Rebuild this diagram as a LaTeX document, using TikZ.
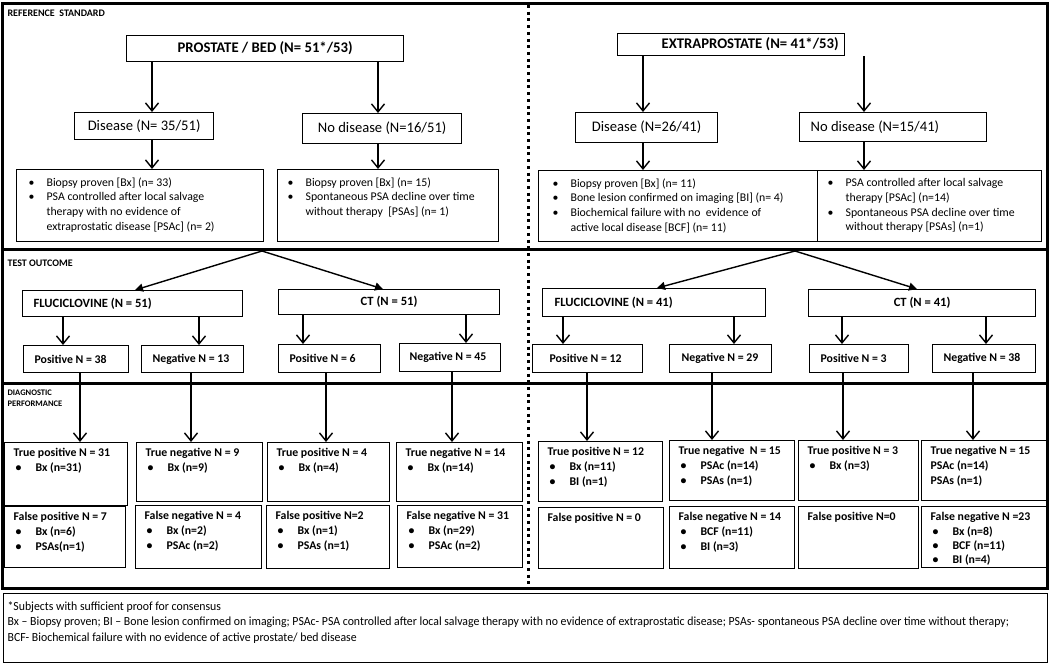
\documentclass[tikz,border=0pt]{standalone}
\usepackage{fontspec}
\setmainfont{Carlito}
\newfontfamily\notefont[FakeStretch=0.95]{Carlito}
\usetikzlibrary{arrows.meta}

\newcommand{\rcell}[3]{\parbox[c][#2pt][t]{\dimexpr#1pt-24pt\relax}{\vspace*{8pt}#3}}
\newcommand{\dcell}[3]{\parbox[c][#2pt][t]{\dimexpr#1pt-18pt\relax}{\vspace*{6pt}#3}}
\newcommand{\ritem}[1]{\par\noindent\makebox[18pt][l]{\textbullet}#1}
\newcommand{\rcont}[1]{\par\noindent\hspace*{18pt}#1}
\newcommand{\ditem}[1]{\par\noindent\hspace*{2pt}\makebox[20pt][l]{\textbullet}#1}

\tikzset{every picture/.style={line width=1.2pt}}
\tikzset{
  box/.style={draw, line width=1.2pt, inner sep=0pt, anchor=north west},
  hd/.style={font=\fontsize{14.7}{16}\selectfont\bfseries},
  dis/.style={font=\fontsize{14.6}{16}\selectfont},
  lst/.style={inner xsep=12pt, font=\fontsize{11.8}{14.7}\selectfont},
  tst/.style={inner xsep=11pt, align=flush left, font=\fontsize{12.6}{14}\selectfont\bfseries},
  pn/.style={inner xsep=11pt, align=flush left, font=\fontsize{11.8}{13}\selectfont\bfseries},
  dg/.style={inner xsep=9pt, font=\fontsize{11.8}{14.8}\selectfont\bfseries},
  sect/.style={anchor=west, inner sep=0pt, align=flush left, font=\fontsize{10}{11.5}\selectfont\bfseries},
  frame/.style={line width=3pt},
  arr/.style={-{Straight Barb[length=8pt,width=13pt]}, line width=1.4pt},
  darr/.style={-{Triangle[length=8pt,width=8pt]}, line width=1.4pt},
}

\begin{document}
\begin{tikzpicture}[x=1pt,y=1pt,yscale=-1,xscale=1]
\path[use as bounding box] (0,0) rectangle (1050,664); %diagram starts at 0, height 664

%Shape: Rectangle [frame]
\draw[frame] (2.5,3.5) rectangle (1047.5,588);
%Straight Lines [section rules]
\draw[frame] (2.5,249) -- (1047.5,249);
\draw[frame] (2.5,383) -- (1047.5,383);
%Straight Lines [dotted divider]
\draw[frame, dash pattern=on 3pt off 3.7pt] (528.5,5) -- (528.5,586);

% Text Node
\node[sect] (refstd) at (7,13) {REFERENCE\ \ STANDARD};
% Text Node
\node[sect] (testout) at (7,263) {TEST OUTCOME};
% Text Node
\node[sect, anchor=north west, font=\fontsize{8.5}{11.5}\selectfont\bfseries] (diagperf) at (7,389) {DIAGNOSTIC\\PERFORMANCE};

%Shape: Rectangle [reference standard, prostate / bed]
\node[box, hd, minimum width=277, minimum height=26] (pb) at (126,35) {PROSTATE / BED (N= 51*/53)};
\node[box, dis, minimum width=139, minimum height=27] (d1) at (74,112) {Disease (N= 35/51)};
\node[box, dis, minimum width=159, minimum height=30] (n1) at (302,113) {No disease (N=16/51)};
\node[box, lst] (b1) at (16,169) {\rcell{247}{72}{%
  \ritem{Biopsy proven [Bx] (n= 33)}
  \ritem{PSA controlled after local salvage}
  \rcont{therapy with no evidence of}
  \rcont{extraprostatic disease [PSAc] (n= 2)}}};
\node[box, lst, inner xsep=10pt] (b2) at (277,169) {\rcell{225}{72}{%
  \ritem{Biopsy proven [Bx] (n= 15)}
  \ritem{Spontaneous PSA decline over time}
  \rcont{without therapy\ \ [PSAs] (n= 1)}}};

%Shape: Rectangle [reference standard, extraprostate]
\node[box, hd, minimum width=227, minimum height=22, text width=215, align=flush right, inner xsep=6pt] (ep) at (617,33) {EXTRAPROSTATE (N= 41*/53)};
\node[box, dis, minimum width=142, minimum height=30] (d2) at (575,112) {Disease (N=26/41)};
\node[box, dis, minimum width=187, minimum height=29, text width=165, align=flush left, inner xsep=11pt] (n2) at (799,112) {No disease (N=15/41)};
\node[box, lst, inner xsep=14pt] (b3) at (538,170) {\rcell{275}{71}{%
  \ritem{Biopsy proven [Bx] (n= 11)}
  \ritem{Bone lesion confirmed on imaging [BI] (n= 4)}
  \ritem{Biochemical failure with no\ \ evidence of}
  \rcont{active local disease [BCF] (n= 11)}}};
\node[box, lst, inner xsep=10pt] (b4) at (817,170) {\rcell{228}{71}{%
  \ritem{PSA controlled after local salvage}
  \rcont{therapy [PSAc] (n=14)}
  \ritem{Spontaneous PSA decline over time}
  \rcont{without therapy [PSAs] (n=1)}}};

%Straight Lines [reference standard arrows]
\draw[arr] ([xshift=26]pb.south west) -- ([xshift=26]pb.south west |- d1.north);
\draw[arr] ([xshift=252]pb.south west) -- ([xshift=252]pb.south west |- n1.north);
\draw[arr] ([xshift=78]d1.south west) -- ([xshift=78]d1.south west |- b1.north);
\draw[arr] ([xshift=76]n1.south west) -- ([xshift=76]n1.south west |- b2.north);
\draw[arr] ([xshift=26]ep.south west) -- ([xshift=26]ep.south west |- d2.north);
\draw[arr] ([xshift=247]ep.south west) -- ([xshift=247]ep.south west |- n2.north);
\draw[arr] ([xshift=68]d2.south west) -- ([xshift=68]d2.south west |- b3.north);
\draw[arr] ([xshift=65]n2.south west) -- ([xshift=65]n2.south west |- b4.north);

%Shape: Rectangle [test outcome]
\node[box, tst, text width=198, minimum height=26] (f1) at (22,290) {FLUCICLOVINE (N = 51)};
\node[box, tst, align=flush center, text width=199, minimum height=25] (c1) at (278,289) {CT (N = 51)};
\node[box, tst, text width=199, inner xsep=12pt, minimum height=28] (f2) at (542,288) {FLUCICLOVINE (N = 41)};
\node[box, tst, align=flush center, text width=205, minimum height=27] (c2) at (808,289) {CT (N = 41)};

\node[box, pn, text width=83, minimum height=27] (p1) at (23,345) {Positive N = 38};
\node[box, pn, text width=80, minimum height=27] (g1) at (141,345) {Negative N = 13};
\node[box, pn, text width=80, minimum height=28] (p2) at (278,344) {Positive N = 6};
\node[box, pn, text width=81, inner xsep=10pt, minimum height=28] (g2) at (399,343) {Negative N = 45};
\node[box, pn, text width=76, inner xsep=17pt, minimum height=28] (p3) at (532,344) {Positive N = 12};
\node[box, pn, text width=78, inner xsep=12pt, minimum height=28] (g3) at (669,344) {Negative N = 29};
\node[box, pn, text width=77, minimum height=28] (p4) at (809,344) {Positive N = 3};
\node[box, pn, text width=81, minimum height=28] (g4) at (932,344) {Negative N = 38};

% Arrows into test outcome
\coordinate (apexL) at (262,251);
\coordinate (apexR) at (795,251);
\draw[darr] (apexL) -- ([xshift=113]f1.north west);
\draw[darr] (apexL) -- ([xshift=105]c1.north west);
\draw[darr] (apexR) -- ([xshift=115]f2.north west);
\draw[darr] (apexR) -- ([xshift=109]c2.north west);

\draw[arr] ([xshift=41]f1.south west) -- ([xshift=41]f1.south west |- p1.north);
\draw[arr] ([xshift=177]f1.south west) -- ([xshift=177]f1.south west |- g1.north);
\draw[arr] ([xshift=25]c1.south west) -- ([xshift=25]c1.south west |- p2.north);
\draw[arr] ([xshift=188]c1.south west) -- ([xshift=188]c1.south west |- g2.north);
\draw[arr] ([xshift=21]f2.south west) -- ([xshift=21]f2.south west |- p3.north);
\draw[arr] ([xshift=192]f2.south west) -- ([xshift=192]f2.south west |- g3.north);
\draw[arr] ([xshift=34]c2.south west) -- ([xshift=34]c2.south west |- p4.north);
\draw[arr] ([xshift=178]c2.south west) -- ([xshift=178]c2.south west |- g4.north);

%Shape: Rectangle [diagnostic performance]
\node[box, dg] (tp1) at (4,442) {\dcell{123}{63}{True positive N = 31\ditem{Bx (n=31)}}};
\node[box, dg] (fp1) at (4,506) {\dcell{121}{61}{False positive N = 7\ditem{Bx (n=6)}\ditem{PSAs(n=1)}}};
\node[box, dg] (tn1) at (136,442) {\dcell{126}{59}{True negative N = 9\ditem{Bx (n=9)}}};
\node[box, dg] (fn1) at (135,505) {\dcell{126}{63}{False negative N = 4\ditem{Bx (n=2)}\ditem{PSAc (n=2)}}};
\node[box, dg] (tp2) at (267,442) {\dcell{122}{59}{True positive N = 4\ditem{Bx (n=4)}}};
\node[box, dg] (fp2) at (266,505) {\dcell{123}{63}{False positive N=2\ditem{Bx (n=1)}\ditem{PSAs (n=1)}}};
\node[box, dg] (tn2) at (396,442) {\dcell{126}{59}{True negative N = 14\ditem{Bx (n=14)}}};
\node[box, dg] (fn2) at (397,505) {\dcell{125}{62}{False negative N = 31\ditem{Bx (n=29)}\ditem{PSAc (n=2)}}};
\node[box, dg] (tp3) at (538,441) {\dcell{124}{60}{True positive N = 12\ditem{Bx (n=11)}\ditem{BI (n=1)}}};
\node[box, dg] (fp3) at (538,507) {\dcell{125}{61}{False positive N = 0}};
\node[box, dg] (tn3) at (669,440) {\dcell{125}{60}{True negative\ \ N = 15\ditem{PSAc (n=14)}\ditem{PSAs (n=1)}}};
\node[box, dg] (fn3) at (669,506) {\dcell{125}{62}{False negative N = 14\ditem{BCF (n=11)}\ditem{BI (n=3)}}};
\node[box, dg] (tp4) at (798,440) {\dcell{120}{60}{True positive N = 3\ditem{Bx (n=3)}}};
\node[box, dg] (fp4) at (798,506) {\dcell{120}{62}{False positive N=0}};
\node[box, dg] (tn4) at (921,440) {\dcell{126}{60}{True negative N = 15\par PSAc (n=14)\par PSAs (n=1)}};
\node[box, dg, font=\fontsize{11.8}{14.2}\selectfont\bfseries] (fn4) at (921,506) {\dcell{126}{61}{False negative N =23\ditem{Bx (n=8)}\ditem{BCF (n=11)}\ditem{BI (n=4)}}};

\draw[arr] ([xshift=57]p1.south west) -- ([xshift=57]p1.south west |- tp1.north);
\draw[arr] ([xshift=50]g1.south west) -- ([xshift=50]g1.south west |- tn1.north);
\draw[arr] ([xshift=48]p2.south west) -- ([xshift=48]p2.south west |- tp2.north);
\draw[arr] ([xshift=53]g2.south west) -- ([xshift=53]g2.south west |- tn2.north);
\draw[arr] ([xshift=55]p3.south west) -- ([xshift=55]p3.south west |- tp3.north);
\draw[arr] ([xshift=43]g3.south west) -- ([xshift=43]g3.south west |- tn3.north);
\draw[arr] ([xshift=34]p4.south west) -- ([xshift=34]p4.south west |- tp4.north);
\draw[arr] ([xshift=41]g4.south west) -- ([xshift=41]g4.south west |- tn4.north);

%Shape: Rectangle [footnote]
\node[box, inner xsep=4pt, font=\notefont\fontsize{12.4}{15.5}\selectfont] (note) at (3,593) {\parbox[c][69pt][t]{1036pt}{\vspace*{8pt}%
  *Subjects with sufficient proof for consensus\par
  Bx – Biopsy proven; BI – Bone lesion confirmed on imaging; PSAc- PSA controlled after local salvage therapy with no evidence of extraprostatic disease; PSAs- spontaneous PSA decline over time without therapy;\par
  BCF- Biochemical failure with no evidence of active prostate/ bed disease}};

\end{tikzpicture}
\end{document}
